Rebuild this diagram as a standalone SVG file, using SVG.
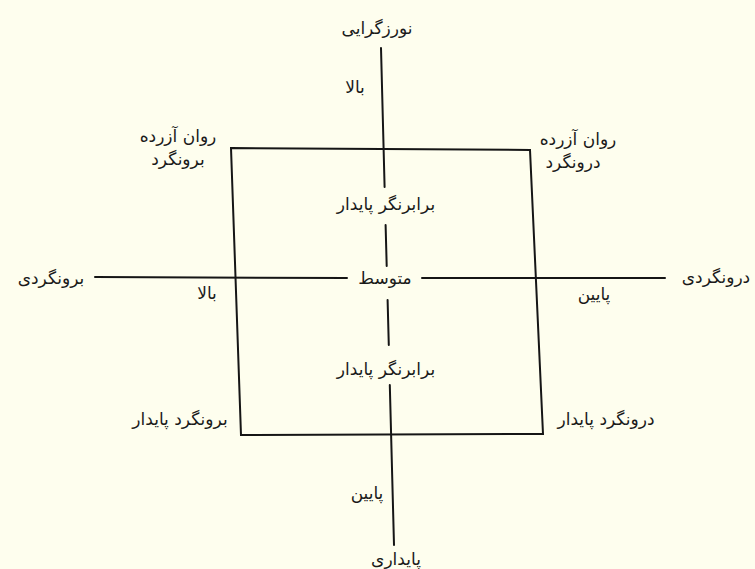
<svg xmlns="http://www.w3.org/2000/svg" width="755" height="569" viewBox="0 0 755 569">
<style>
.t{font-family:"DejaVu Sans",sans-serif;font-size:17px;fill:#1a1a1a;text-anchor:middle}
.ln{stroke:#151515;stroke-width:2;fill:none;stroke-linecap:round}
</style>
<rect width="755" height="569" fill="#fefeee"/>
<g id="connectors">
<polygon class="ln" points="231,148 530,150 543,434 241,435"/>
<line class="ln" x1="381" y1="48" x2="384.6" y2="187"/>
<line class="ln" x1="385.6" y1="225" x2="386.7" y2="266"/>
<line class="ln" x1="387.6" y1="300" x2="388.8" y2="345"/>
<line class="ln" x1="389.8" y1="385" x2="394" y2="545"/>
<line class="ln" x1="95" y1="277" x2="347" y2="278"/>
<line class="ln" x1="422" y1="278" x2="665" y2="278"/>
</g>
<g id="top"><text class="t" x="377" y="34">نورزگرایی</text></g>
<g id="top-high"><text class="t" x="355" y="93">بالا</text></g>
<g id="tl"><text class="t" x="178" y="142">روان آزرده</text><text class="t" x="178" y="165">برونگرد</text></g>
<g id="tr"><text class="t" x="578" y="145">روان آزرده</text><text class="t" x="573" y="168">درونگرد</text></g>
<g id="left"><text class="t" x="51" y="284">برونگردی</text></g>
<g id="left-high"><text class="t" x="207" y="299">بالا</text></g>
<g id="right"><text class="t" x="716" y="283">درونگردی</text></g>
<g id="right-low"><text class="t" x="594" y="300">پایین</text></g>
<g id="center-top"><text class="t" x="386" y="210">برابرنگر پایدار</text></g>
<g id="center"><text class="t" x="385" y="284">متوسط</text></g>
<g id="center-bottom"><text class="t" x="386" y="375">برابرنگر پایدار</text></g>
<g id="bl"><text class="t" x="180" y="425">برونگرد پایدار</text></g>
<g id="br"><text class="t" x="606" y="425">درونگرد پایدار</text></g>
<g id="bottom-low"><text class="t" x="367" y="499">پایین</text></g>
<g id="bottom"><text class="t" x="396" y="565">پایداری</text></g>
</svg>
